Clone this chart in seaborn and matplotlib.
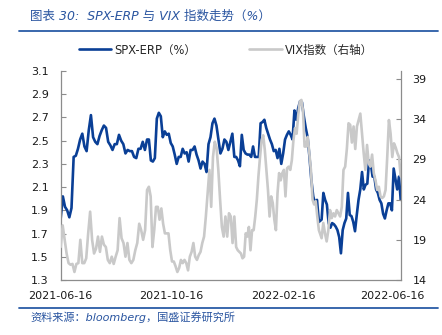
import numpy as np
import pandas as pd
import matplotlib
matplotlib.use("Agg")
import matplotlib.pyplot as plt
import matplotlib.dates as mdates
from matplotlib.lines import Line2D
import seaborn as sns

# Date spans of the four stretches of readings
periods = [("2021-06-16", "2021-09-19"),
           ("2021-09-21", "2021-12-24"),
           ("2021-12-26", "2022-03-27"),
           ("2022-03-30", "2022-06-25")]

# SPX equity risk premium (%), left axis
erp_p1 = [1.83, 2.02, 1.93, 1.90, 1.84, 1.92, 2.36, 2.37, 2.43, 2.51, 2.56, 2.45, 2.41, 2.59,
          2.72, 2.53, 2.49, 2.47, 2.54, 2.59, 2.63, 2.61, 2.49, 2.46, 2.42, 2.47, 2.47, 2.55,
          2.50, 2.47, 2.39, 2.42, 2.41, 2.41, 2.36, 2.35, 2.43, 2.43, 2.49, 2.42, 2.51]
erp_p2 = [2.51, 2.33, 2.32, 2.35, 2.69, 2.74, 2.71, 2.53, 2.58, 2.55, 2.56, 2.48, 2.45, 2.38,
          2.30, 2.36, 2.36, 2.43, 2.39, 2.40, 2.32, 2.42, 2.42, 2.45, 2.38, 2.33, 2.26, 2.32,
          2.30, 2.23, 2.47, 2.53, 2.65, 2.69, 2.63, 2.51, 2.39, 2.43, 2.51, 2.49, 2.42, 2.49,
          2.56, 2.36]
erp_p3 = [2.36, 2.33, 2.28, 2.55, 2.42, 2.39, 2.38, 2.38, 2.36, 2.45, 2.36, 2.36, 2.36, 2.65,
          2.66, 2.68, 2.61, 2.56, 2.51, 2.47, 2.41, 2.42, 2.35, 2.43, 2.30, 2.39, 2.51, 2.55,
          2.58, 2.55, 2.51, 2.76, 2.68, 2.78, 2.84, 2.83, 2.71, 2.61, 2.53, 2.36, 2.16, 2.02,
          1.96, 1.99, 1.80]
erp_p4 = [1.82, 2.05, 1.99, 1.95, 1.79, 1.75, 1.79, 1.78, 1.76, 1.73, 1.67, 1.53, 1.73, 1.79,
          1.83, 2.05, 1.86, 1.85, 1.80, 1.72, 1.86, 1.99, 2.08, 2.23, 2.08, 2.12, 2.13, 2.33,
          2.30, 2.19, 2.19, 2.08, 2.05, 1.99, 1.96, 1.87, 1.83, 1.90, 1.96, 1.96, 1.90, 2.26,
          2.17, 2.08, 2.19, 1.99]

# VIX index, right axis
vix_p1 = [18.1, 20.8, 19.0, 17.3, 16.1, 15.9, 16.0, 15.0, 16.0, 16.1, 19.0, 16.1, 16.1, 16.7,
          19.8, 22.5, 19.0, 17.3, 17.9, 19.4, 17.5, 19.4, 18.4, 18.1, 16.5, 16.1, 16.9, 16.0,
          16.9, 17.7, 21.7, 19.2, 18.6, 16.9, 18.6, 16.5, 16.1, 16.5, 17.7, 18.6, 21.0, 20.2,
          19.0, 20.2, 25.2]
vix_p2 = [25.6, 24.4, 18.1, 20.2, 23.1, 23.1, 21.5, 22.9, 21.0, 19.8, 19.8, 19.8, 17.7, 16.3,
          16.3, 15.7, 15.0, 15.5, 16.5, 16.1, 16.5, 16.1, 15.2, 16.9, 17.5, 18.6, 16.9, 16.5,
          17.1, 17.5, 18.6, 19.4, 21.9, 24.8, 27.7, 23.1, 29.3, 31.2, 30.5, 27.7, 24.0, 20.6,
          19.4, 21.9, 19.4, 22.3, 21.9, 18.6, 21.9]
vix_p3 = [18.1, 17.7, 17.5, 17.3, 16.7, 16.9, 19.8, 19.4, 20.6, 17.7, 20.2, 20.2, 21.9, 24.0,
          26.9, 29.3, 31.4, 32.0, 30.2, 27.7, 25.2, 21.9, 24.4, 23.6, 21.5, 20.2, 24.8, 27.3,
          26.4, 27.3, 27.7, 24.4, 27.9, 28.1, 27.7, 28.9, 31.4, 32.9, 32.2, 34.5, 36.2, 36.4,
          35.1, 30.6, 30.6, 31.8, 29.8, 27.7, 24.0, 23.4, 23.8, 21.9, 20.2]
vix_p4 = [19.2, 21.1, 19.8, 18.8, 20.2, 22.7, 21.7, 22.3, 21.9, 22.7, 22.3, 21.9, 23.1, 27.7,
          28.1, 30.3, 33.5, 33.3, 31.1, 33.1, 30.3, 33.1, 33.9, 34.7, 32.2, 29.8, 27.7, 30.8,
          28.5, 28.1, 29.6, 27.3, 26.4, 25.2, 25.6, 24.4, 24.2, 24.4, 25.2, 29.3, 33.9, 32.2,
          29.3, 31.0, 30.5, 29.8, 29.3, 26.9]

x_ticks = ["2021-06-16", "2021-10-16", "2022-02-16", "2022-06-16"]
left_ticks = [1.3, 1.5, 1.7, 1.9, 2.1, 2.3, 2.5, 2.7, 2.9, 3.1]
right_ticks = [14, 19, 24, 29, 34, 39]

title = "图表 30:  SPX-ERP 与 VIX 指数走势（%）"
source = "资料来源：bloomberg，国盛证券研究所"
erp_name = "SPX-ERP（%）"
vix_name = "VIX指数（右轴）"


def build(chunks):
    frames = []
    for (a, b), vals in zip(periods, chunks):
        frames.append(pd.DataFrame({"date": pd.date_range(a, b, periods=len(vals)),
                                    "value": vals}))
    return pd.concat(frames, ignore_index=True)


erp_df = build([erp_p1, erp_p2, erp_p3, erp_p4])
vix_df = build([vix_p1, vix_p2, vix_p3, vix_p4])

BLUE = "#0A3F96"
GRAY = "#C9C9C9"
ACCENT = "#2A5CA6"
AXIS = "#8C8C8C"

sns.set_style("white")
plt.rcParams["font.family"] = ["DejaVu Sans", "Noto Sans CJK SC"]

fig = plt.figure(figsize=(4.42, 3.35), dpi=100)
ax = fig.add_axes([60.7 / 442, 1 - 280 / 335, 340 / 442, 209 / 335])
ax2 = ax.twinx()

sns.lineplot(data=erp_df, x="date", y="value", ax=ax, color=BLUE, linewidth=1.9,
             estimator=None)
sns.lineplot(data=vix_df, x="date", y="value", ax=ax2, color=GRAY, linewidth=1.9,
             estimator=None)

start = pd.Timestamp(periods[0][0])
end = pd.Timestamp(periods[-1][1])
ax.set_xlim(start, end)
ax.set_ylim(left_ticks[0], left_ticks[-1])
ax2.set_ylim(14, 40)
ax.set_yticks(left_ticks)
ax.set_yticklabels([f"{v:.1f}" for v in left_ticks])
ax2.set_yticks(right_ticks)
ax.set_xticks([pd.Timestamp(d) for d in x_ticks])
ax.xaxis.set_major_formatter(mdates.DateFormatter("%Y-%m-%d"))

for a in (ax, ax2):
    a.set_xlabel("")
    a.set_ylabel("")
    for side in ("left", "right", "bottom", "top"):
        a.spines[side].set_visible(False)
    a.tick_params(direction="in", length=3.5, width=0.8, color=AXIS,
                  labelsize=8, labelcolor="#1a1a1a", pad=8.5)
    a.grid(False)

ax.spines["left"].set_visible(True)
ax.spines["bottom"].set_visible(True)
ax2.spines["right"].set_visible(True)
for sp in (ax.spines["left"], ax.spines["bottom"], ax2.spines["right"]):
    sp.set_color(AXIS)
    sp.set_linewidth(0.9)
ax.tick_params(axis="x", pad=8)

handles = [Line2D([], [], color=BLUE, linewidth=1.9),
           Line2D([], [], color=GRAY, linewidth=1.9)]
fig.legend(handles, [erp_name, vix_name], loc="center", ncol=2, frameon=False,
           bbox_to_anchor=(226 / 442, 1 - 50 / 335), fontsize=8.3, handlelength=2.8,
           handletextpad=0.3, columnspacing=4.6)

fig.text(30 / 442, 1 - 16 / 335, title, fontsize=9, color="#2A55A0", style="italic",
         va="center", ha="left", family=["DejaVu Sans", "Noto Sans CJK SC"])
fig.text(30 / 442, 1 - 317 / 335, source, fontsize=8, color="#2A55A0", style="italic",
         va="center", ha="left", family=["DejaVu Sans", "Noto Sans CJK SC"])

fig.add_artist(Line2D([19 / 442, 438 / 442], [1 - 30.5 / 335] * 2, color=ACCENT,
                      linewidth=1.3, transform=fig.transFigure))
fig.add_artist(Line2D([19 / 442, 438 / 442], [1 - 308.3 / 335] * 2, color=ACCENT,
                      linewidth=1.3, transform=fig.transFigure))

fig.savefig("out.png", dpi=100)
